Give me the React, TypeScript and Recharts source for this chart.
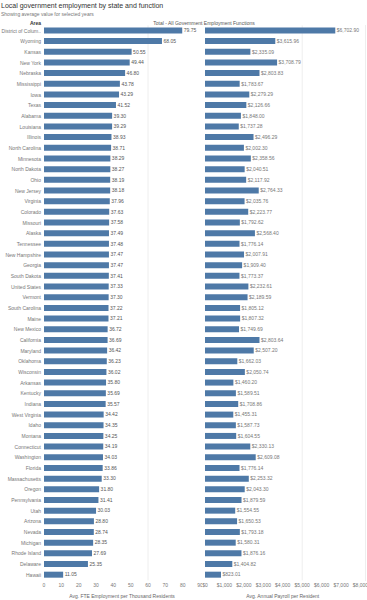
import React from "react";
import { BarChart, Bar, XAxis, YAxis, LabelList, CartesianGrid } from "recharts";

const states = [
  "District of Colum..", "Wyoming", "Kansas", "New York", "Nebraska", "Mississippi", "Iowa", "Texas",
  "Alabama", "Louisiana", "Illinois", "North Carolina", "Minnesota", "North Dakota", "Ohio", "New Jersey",
  "Virginia", "Colorado", "Missouri", "Alaska", "Tennessee", "New Hampshire", "Georgia", "South Dakota",
  "United States", "Vermont", "South Carolina", "Maine", "New Mexico", "California", "Maryland", "Oklahoma",
  "Wisconsin", "Arkansas", "Kentucky", "Indiana", "West Virginia", "Idaho", "Montana", "Connecticut",
  "Washington", "Florida", "Massachusetts", "Oregon", "Pennsylvania", "Utah", "Arizona", "Nevada",
  "Michigan", "Rhode Island", "Delaware", "Hawaii",
];

const fteValues = [
  79.75, 68.05, 50.55, 49.44, 46.8, 43.78, 43.29, 41.52,
  39.3, 39.29, 38.93, 38.71, 38.29, 38.27, 38.19, 38.18,
  37.96, 37.63, 37.58, 37.49, 37.48, 37.47, 37.47, 37.41,
  37.33, 37.3, 37.22, 37.21, 36.72, 36.69, 36.42, 36.23,
  36.02, 35.8, 35.69, 35.57, 34.42, 34.35, 34.25, 34.19,
  34.03, 33.86, 33.3, 31.8, 31.41, 30.03, 28.8, 28.74,
  28.35, 27.69, 25.35, 11.05,
];

const payrollValues = [
  6702.9, 3615.96, 2335.09, 3708.79, 2803.83, 1783.67, 2279.29, 2126.66,
  1848.0, 1737.28, 2496.29, 2002.3, 2358.56, 2040.51, 2117.92, 2764.33,
  2035.76, 2223.77, 1792.62, 2568.4, 1776.14, 2007.91, 1909.4, 1773.37,
  2232.61, 2189.59, 1805.12, 1807.32, 1749.69, 2803.64, 2507.2, 1662.03,
  2050.74, 1460.2, 1589.51, 1708.86, 1455.31, 1587.73, 1604.55, 2330.13,
  2609.08, 1776.14, 2253.32, 2043.3, 1879.59, 1554.55, 1650.53, 1793.18,
  1580.31, 1876.16, 1404.82, 823.01,
];

const fteTicks = [0, 10, 20, 30, 40, 50, 60, 70, 80, 90];
const payrollTicks = [0, 1000, 2000, 3000, 4000, 5000, 6000, 7000, 8000];
const fteGrid = [60];
const payrollGrid = [5000];

const data = states.map((s, i) => ({ name: s, fte: fteValues[i], payroll: payrollValues[i] }));

const FONT = "'Liberation Sans', Arial, sans-serif";
const BAR = "#4e79a7";

const money = (v: number) =>
  "$" + v.toLocaleString("en-US", { minimumFractionDigits: 2, maximumFractionDigits: 2 });
const moneyTick = (v: number) => "$" + v.toLocaleString("en-US");

const StateTick = (props: any) => {
  const { x, y, payload } = props;
  return (
    <text x={x} y={y} dy="0.355em" textAnchor="end" fontSize={5} fill="#777" fontFamily={FONT}>
      {payload.value}
    </text>
  );
};

const gridGen = (values: number[], max: number) => (args: any) => {
  const { xAxis, offset } = args || {};
  const sc = xAxis && xAxis.scale;
  if (typeof sc === "function") return values.map((v) => sc(v));
  if (sc && typeof sc.map === "function") return values.map((v) => sc.map(v));
  if (offset) return values.map((v) => offset.left + (v / max) * offset.width);
  return [];
};

export default function App() {
  const top = 25.4;
  const xAxisH = 19.65;
  return (
    <div style={{ position: "absolute", left: 0, top: 0, width: 367, height: 600, background: "#fff", fontFamily: FONT, overflow: "hidden" }}>
      <div style={{ position: "absolute", left: 1, top: 1, fontSize: 7, color: "#333", whiteSpace: "nowrap", lineHeight: "9px" }}>
        Local government employment by state and function
      </div>
      <div style={{ position: "absolute", left: 1, top: 11, fontSize: 5, color: "#777", whiteSpace: "nowrap", lineHeight: "6px" }}>
        Showing average value for selected years
      </div>
      <div style={{ position: "absolute", right: 367 - 41, top: 19.5, fontSize: 5, color: "#333", whiteSpace: "nowrap", lineHeight: "6px", fontWeight: "bold" }}>
        Area
      </div>
      <div style={{ position: "absolute", left: 104, width: 200, textAlign: "center", top: 19.5, fontSize: 5, color: "#555", whiteSpace: "nowrap", lineHeight: "6px" }}>
        Total - All Government Employment Functions
      </div>
      <div style={{ position: "absolute", left: 365, top: 25, width: 0, height: 556, borderLeft: "1px solid #eeeeee" }} />
      <div style={{ position: "absolute", left: 0, top: 0 }}>
        <BarChart width={202} height={600} data={data} layout="vertical" margin={{ top, right: 2, left: 0, bottom: 0 }} barCategoryGap={0}>
          <CartesianGrid horizontal={false} stroke="#eeeeee" verticalCoordinatesGenerator={gridGen(fteGrid, 90)} />
          <XAxis
            type="number"
            domain={[0, 90]}
            ticks={fteTicks}
            height={xAxisH}
            axisLine={false}
            tickLine={false}
            tickSize={0}
            tickMargin={3}
            interval={0}
            tick={{ fontSize: 5, fill: "#777", fontFamily: FONT }}
            label={{ value: "Avg. FTE Employment per Thousand Residents", position: "insideBottom", offset: 2.5, fontSize: 5, fill: "#666", fontFamily: FONT }}
          />
          <YAxis
            type="category"
            dataKey="name"
            width={44}
            axisLine={false}
            tickLine={false}
            tickSize={0}
            tickMargin={3}
            interval={0}
            tick={<StateTick />}
          />
          <Bar dataKey="fte" fill={BAR} barSize={6} isAnimationActive={false}>
            <LabelList dataKey="fte" position="right" offset={1.5} formatter={(v: any) => Number(v).toFixed(2)} style={{ fontSize: 5, fill: "#555", fontFamily: FONT }} />
          </Bar>
        </BarChart>
      </div>
      <div style={{ position: "absolute", left: 202, top: 0 }}>
        <BarChart width={165} height={600} data={data} layout="vertical" margin={{ top, right: 6.5, left: 3, bottom: 0 }} barCategoryGap={0}>
          <CartesianGrid horizontal={false} stroke="#eeeeee" verticalCoordinatesGenerator={gridGen(payrollGrid, 8000)} />
          <XAxis
            type="number"
            domain={[0, 8000]}
            ticks={payrollTicks}
            height={xAxisH}
            axisLine={false}
            tickLine={false}
            tickSize={0}
            tickMargin={3}
            interval={0}
            tickFormatter={moneyTick}
            tick={{ fontSize: 5, fill: "#777", fontFamily: FONT }}
            label={{ value: "Avg. Annual Payroll per Resident", position: "insideBottom", offset: 2.5, fontSize: 5, fill: "#666", fontFamily: FONT }}
          />
          <YAxis type="category" dataKey="name" width={0} hide />
          <Bar dataKey="payroll" fill={BAR} barSize={6} isAnimationActive={false}>
            <LabelList dataKey="payroll" position="right" offset={1.5} formatter={(v: any) => money(Number(v))} style={{ fontSize: 5, fill: "#777", fontFamily: FONT }} />
          </Bar>
        </BarChart>
      </div>
    </div>
  );
}
